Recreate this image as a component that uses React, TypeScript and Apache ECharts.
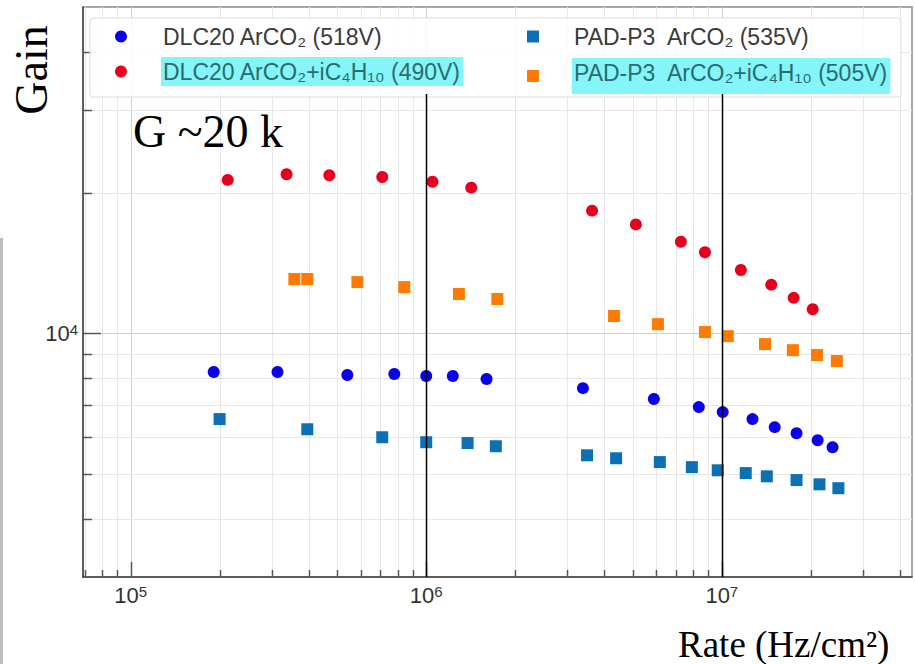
import React, { useEffect, useRef } from "react";
import * as echarts from "echarts";

// Axis extents (log scales)
const X_MIN = 69000;
const X_MAX = 44000000;
const Y_MIN = 3000;
const Y_MAX = 50000;

// Gridline / tick values
const xMinorTicks = [70000, 80000, 90000, 200000, 300000, 400000, 500000, 600000, 700000, 800000, 900000, 2000000, 3000000, 4000000, 5000000, 6000000, 7000000, 8000000, 9000000, 20000000, 30000000, 40000000];
const xMajorTicks = [100000, 1000000, 10000000];
const yMinorTicks = [4000, 5000, 6000, 7000, 8000, 9000, 20000, 30000, 40000];
const yMajorTicks = [10000];
const markerRates = [1000000, 10000000];

// Series names
const nameDlcAr = "DLC20 ArCO₂ (518V)";
const nameDlcIso = "DLC20 ArCO₂+iC₄H₁₀ (490V)";
const namePadAr = "PAD-P3\u00a0 ArCO₂ (535V)";
const namePadIso = "PAD-P3\u00a0 ArCO₂+iC₄H₁₀ (505V)";

// DLC20 ArCO2 (blue circles)
const dlcArRate = [191000, 314000, 541000, 780000, 1000000, 1230000, 1600000, 3390000, 5890000, 8360000, 10070000, 12700000, 15100000, 17900000, 21100000, 23700000];
const dlcArGain = [8250, 8250, 8130, 8170, 8090, 8090, 7970, 7620, 7220, 6940, 6770, 6540, 6285, 6100, 5890, 5690];

// DLC20 ArCO2+iC4H10 (red circles)
const dlcIsoRate = [213000, 337000, 470000, 710000, 1050000, 1420000, 3640000, 5120000, 7270000, 8770000, 11600000, 14700000, 17500000, 20300000];
const dlcIsoGain = [21300, 21900, 21800, 21600, 21100, 20500, 18300, 17100, 15700, 14900, 13650, 12700, 11900, 11250];

// PAD-P3 ArCO2 (blue squares)
const padArRate = [200000, 396000, 710000, 1000000, 1380000, 1720000, 3500000, 4390000, 6170000, 7920000, 9690000, 12050000, 14200000, 17900000, 21400000, 24800000];
const padArGain = [6540, 6220, 5980, 5835, 5810, 5720, 5470, 5390, 5290, 5160, 5080, 5010, 4930, 4840, 4740, 4650];

// PAD-P3 ArCO2+iC4H10 (orange squares)
const padIsoRate = [358000, 396000, 585000, 843000, 1290000, 1740000, 4320000, 6080000, 8770000, 10480000, 14000000, 17400000, 21000000, 24500000];
const padIsoGain = [13060, 13060, 12860, 12550, 12130, 11830, 10880, 10450, 10050, 9850, 9470, 9190, 8970, 8710];

const zip = (xs: number[], ys: number[]) => xs.map((x, i) => [x, ys[i]]);

const isPow10 = (v: number) => {
  const l = Math.log10(v);
  return Math.abs(l - Math.round(l)) < 1e-6;
};

const SANS = '"Liberation Sans", Arial, Helvetica, "DejaVu Sans", sans-serif';
const SERIF = '"Liberation Serif", "Times New Roman", serif';

const powRich = {
  b: { fontSize: 22, color: "#333", fontFamily: SANS },
  s: { fontSize: 15, color: "#333", fontFamily: SANS, verticalAlign: "top" },
};

const powFormatter = (v: number) => {
  if (!isPow10(v)) return "";
  return `{b|10}{s|${Math.round(Math.log10(v))}}`;
};

const vGrid = (color: string, tickLen: number) => (params: any, api: any) => {
  const v = api.value(0);
  const p = api.coord([v, Y_MIN]);
  const cs = params.coordSys;
  const x = Math.round(p[0]) + 0.5;
  const bottom = cs.y + cs.height;
  return {
    type: "group",
    children: [
      { type: "line", shape: { x1: x, y1: cs.y, x2: x, y2: bottom }, style: { stroke: color, lineWidth: 1 } },
      { type: "line", shape: { x1: x, y1: bottom, x2: x, y2: bottom - tickLen }, style: { stroke: "#555", lineWidth: 1.5 } },
    ],
  };
};

const hGrid = (color: string, tickLen: number) => (params: any, api: any) => {
  const v = api.value(1);
  const p = api.coord([X_MIN, v]);
  const cs = params.coordSys;
  const y = Math.round(p[1]) + 0.5;
  return {
    type: "group",
    children: [
      { type: "line", shape: { x1: cs.x, y1: y, x2: cs.x + cs.width, y2: y }, style: { stroke: color, lineWidth: 1 } },
      { type: "line", shape: { x1: cs.x, y1: y, x2: cs.x + tickLen, y2: y }, style: { stroke: "#555", lineWidth: 1.5 } },
    ],
  };
};

const markerLine = (params: any, api: any) => {
  const v = api.value(0);
  const p = api.coord([v, Y_MIN]);
  const x = Math.round(p[0]) + 0.5;
  return {
    type: "line",
    shape: { x1: x, y1: 94, x2: x, y2: p[1] },
    style: { stroke: "#000", lineWidth: 1.5 },
  };
};

const LEG_FONT = 23;
const HL_BG = "#84f5f8";
const legendRich = (spacer: number) => ({
  sp: { width: spacer },
  t: { fontSize: LEG_FONT, color: "#3a3a3a", fontFamily: SANS, lineHeight: 26, padding: [0, 2, 0, 2] },
  hl: { fontSize: LEG_FONT, color: "#2b6c6e", fontFamily: SANS, lineHeight: 20, padding: [3, 2, 3, 2], backgroundColor: HL_BG },
  hl2: { fontSize: LEG_FONT, color: "#2b6c6e", fontFamily: SANS, lineHeight: 20, padding: [3, 2, 10, 2], backgroundColor: HL_BG },
});

const legendFormatter = (name: string) => {
  if (name === nameDlcIso) return `{sp| }{hl|${name}}`;
  if (name === namePadIso) return `{sp| }{hl2|${name}}`;
  return `{sp| }{t|${name}}`;
};

export default function App() {
  const ref = useRef<HTMLDivElement>(null);

  useEffect(() => {
    if (!ref.current) return;
    const chart = echarts.init(ref.current, null, { renderer: "svg" });
    const option: any = {
      animation: false,
      backgroundColor: "#ffffff",
      grid: {
        left: 83,
        top: 7,
        right: 3,
        bottom: 87,
        show: true,
        borderColor: "#8a8a8a",
        borderWidth: 1.5,
        backgroundColor: "transparent",
      },
      xAxis: {
        type: "log",
        logBase: 10,
        min: X_MIN,
        max: X_MAX,
        axisLine: { show: true, lineStyle: { color: "#444", width: 1.5 } },
        axisTick: { show: false },
        splitLine: { show: false },
        axisLabel: { formatter: powFormatter, rich: powRich, margin: 7 },
      },
      yAxis: {
        type: "log",
        logBase: 10,
        min: Y_MIN,
        max: Y_MAX,
        axisLine: { show: true, lineStyle: { color: "#444", width: 1.5 } },
        axisTick: { show: false },
        splitLine: { show: false },
        axisLabel: { formatter: powFormatter, rich: powRich, margin: 5 },
      },
      legend: [
        {
          orient: "vertical",
          left: 115,
          top: 25,
          padding: 0,
          itemWidth: 12,
          itemHeight: 12,
          itemGap: 9,
          z: 6,
          data: [nameDlcAr, nameDlcIso],
          formatter: legendFormatter,
          textStyle: { rich: legendRich(29) },
        },
        {
          orient: "vertical",
          left: 527,
          top: 25,
          padding: 0,
          itemWidth: 12,
          itemHeight: 12,
          itemGap: 10,
          z: 6,
          data: [namePadAr, namePadIso],
          formatter: legendFormatter,
          textStyle: { rich: legendRich(28) },
        },
      ],
      graphic: [
        {
          type: "rect",
          z: 3,
          shape: { x: 90, y: 18, width: 811, height: 79, r: 3 },
          style: { fill: "rgba(255,255,255,0.82)", stroke: "#dcdcdc", lineWidth: 1 },
        },
        {
          type: "rect",
          z: 3,
          shape: { x: 0, y: 238, width: 3, height: 426 },
          style: { fill: "#bdbdbd" },
        },
        {
          type: "text",
          x: 31,
          y: 70,
          rotation: Math.PI / 2,
          z: 7,
          style: { text: "Gain", font: `46px ${SERIF}`, fill: "#000", align: "center", verticalAlign: "middle" },
        },
        {
          type: "text",
          x: 133,
          y: 131,
          z: 7,
          style: { text: "G ~20 k", font: `46px ${SERIF}`, fill: "#000", align: "left", verticalAlign: "middle" },
        },
        {
          type: "text",
          x: 678,
          y: 644,
          z: 7,
          style: { text: "Rate (Hz/cm²)", font: `37px ${SERIF}`, fill: "#000", align: "left", verticalAlign: "middle" },
        },
      ],
      series: [
        { type: "custom", silent: true, z: 1, renderItem: vGrid("#e7e7e7", 7), data: xMinorTicks.map((v) => [v, Y_MIN]) },
        { type: "custom", silent: true, z: 1, renderItem: vGrid("#cfcfcf", 15), data: xMajorTicks.map((v) => [v, Y_MIN]) },
        { type: "custom", silent: true, z: 1, renderItem: hGrid("#e7e7e7", 9), data: yMinorTicks.map((v) => [X_MIN, v]) },
        { type: "custom", silent: true, z: 1, renderItem: hGrid("#cfcfcf", 18), data: yMajorTicks.map((v) => [X_MIN, v]) },
        {
          name: nameDlcAr,
          type: "scatter",
          symbol: "circle",
          symbolSize: 12,
          z: 4,
          itemStyle: { color: "#0a00ee", opacity: 1 },
          data: zip(dlcArRate, dlcArGain),
        },
        {
          name: nameDlcIso,
          type: "scatter",
          symbol: "circle",
          symbolSize: 12,
          z: 4,
          itemStyle: { color: "#e6001e", opacity: 1 },
          data: zip(dlcIsoRate, dlcIsoGain),
        },
        {
          name: namePadAr,
          type: "scatter",
          symbol: "rect",
          symbolSize: 12,
          z: 4,
          itemStyle: { color: "#0b70b4", opacity: 1 },
          data: zip(padArRate, padArGain),
        },
        {
          name: namePadIso,
          type: "scatter",
          symbol: "rect",
          symbolSize: 12,
          z: 4,
          itemStyle: { color: "#ff7a00", opacity: 1 },
          data: zip(padIsoRate, padIsoGain),
        },
        { type: "custom", silent: true, z: 8, renderItem: markerLine, data: markerRates.map((v) => [v, Y_MIN]) },
      ],
    };
    chart.setOption(option);
    return () => chart.dispose();
  }, []);

  return (
    <div
      ref={ref}
      style={{ position: "fixed", left: 0, top: 0, width: 915, height: 664, background: "#fff" }}
    />
  );
}
